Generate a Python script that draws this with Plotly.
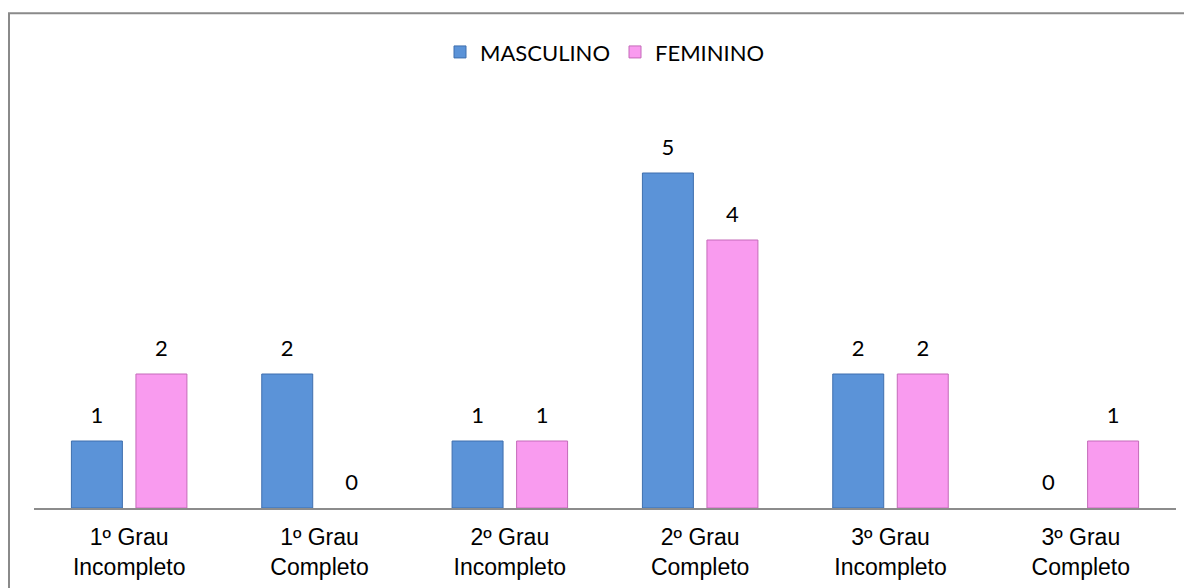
import plotly.graph_objects as go

# Escolaridade por sexo
categorias = [
    "1º Grau<br>Incompleto",
    "1º Grau<br>Completo",
    "2º Grau<br>Incompleto",
    "2º Grau<br>Completo",
    "3º Grau<br>Incompleto",
    "3º Grau<br>Completo",
]
masculino = [1, 2, 1, 5, 2, 0]
feminino = [2, 0, 1, 4, 2, 1]

AZUL = "#5b93d8"
ROSA = "#f99bef"
FONTE_ROTULO = dict(family="Lato, Open Sans, sans-serif", size=10, color="#000")
MODELO = "<span style='font-size:22px'>%{y}</span><br> "


def borda(valores, cor):
    # sem contorno nas barras de valor zero
    return dict(color=cor, width=[0 if v == 0 else 1 for v in valores])


fig = go.Figure()
fig.add_trace(go.Bar(
    x=categorias, y=masculino, name="MASCULINO",
    marker=dict(color=AZUL, line=borda(masculino, "#3f6fae")),
    texttemplate=MODELO, textposition="outside", cliponaxis=False,
    textfont=FONTE_ROTULO, constraintext="none",
))
fig.add_trace(go.Bar(
    x=categorias, y=feminino, name="FEMININO",
    marker=dict(color=ROSA, line=borda(feminino, "#c46bb9")),
    texttemplate=MODELO, textposition="outside", cliponaxis=False,
    textfont=FONTE_ROTULO, constraintext="none",
))

fig.update_layout(
    width=1184, height=580,
    margin=dict(l=26, r=16, t=98, b=80),
    plot_bgcolor="white", paper_bgcolor="white",
    barmode="group", bargap=0.322, bargroupgap=0.21,
    showlegend=True,
    legend=dict(
        orientation="h", x=0.5, xanchor="center", y=1.134, yanchor="middle",
        font=dict(family="Lato, Open Sans, sans-serif", size=22, color="#000"),
        bgcolor="rgba(0,0,0,0)", traceorder="normal",
    ),
    xaxis=dict(
        showline=True, linecolor="#8c8c8c", linewidth=1.5,
        ticks="", showgrid=False, ticklabelstandoff=8, automargin=False,
        tickfont=dict(family="Liberation Sans, Arial, sans-serif", size=23, color="#000"),
    ),
    yaxis=dict(range=[0, 6], visible=False, showgrid=False, automargin=False),
    shapes=[dict(
        type="rect", xref="paper", yref="paper",
        x0=-0.0219, x1=1.05, y0=-0.3, y1=1.231,
        line=dict(color="#8a8a8a", width=2), fillcolor="rgba(0,0,0,0)",
        layer="below",
    )],
)

fig.write_html("out.html")
